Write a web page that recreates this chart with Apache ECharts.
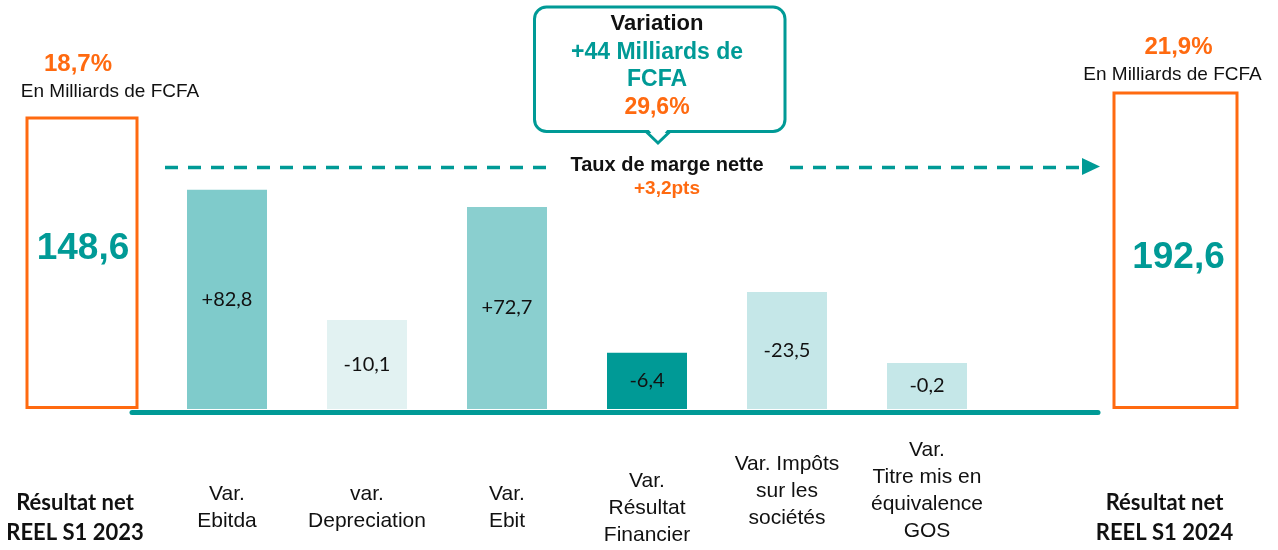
<!DOCTYPE html>
<html><head><meta charset="utf-8">
<script src="https://cdn.jsdelivr.net/npm/echarts@6/dist/echarts.min.js"></script>
<style>html,body{margin:0;padding:0;background:#fff}#c{width:1278px;height:550px}</style>
</head><body><div id="c"></div>
<script>
// ---- data ----
const startLabel = 'Résultat net\nREEL S1 2023';
const endLabel = 'Résultat net\nREEL S1 2024';
const startValue = 148.6;
const endValue = 192.6;
const startMarginRate = '18,7%';
const endMarginRate = '21,9%';
const unitText = 'En Milliards de FCFA';
const startHeight = 91.7;   // drawn height (chart units 0-100) as seen in the picture
const endHeight = 99.5;
const categories = ['Var.\nEbitda', 'var.\nDepreciation', 'Var.\nEbit', 'Var.\nRésultat\nFinancier', 'Var. Impôts\nsur les\nsociétés', 'Var.\nTitre mis en\néquivalence\nGOS'];
const variations = [82.8, -10.1, 72.7, -6.4, -23.5, -0.2];
const barHeights = [68.7, 27.9, 63.3, 17.6, 36.7, 14.4];
const calloutTitle = 'Variation';
const calloutAmount = ['+44 Milliards de', 'FCFA'];
const calloutPct = '29,6%';
const marginTitle = 'Taux de marge nette';
const marginChange = '+3,2pts';

// ---- styles ----
const TEAL = '#009A96';
const ORANGE = '#FF6A10';
const barColors = ['#7FCBCB', '#E2F2F2', '#8ACFCF', '#009A96', '#C5E7E8', '#C5E7E8'];
const SANS = '"Liberation Sans", Arial, sans-serif';
const CAL = 'Lato, "Open Sans", sans-serif';

const fmt = v => v.toFixed(1).replace('.', ',');
const fmtSigned = v => (v > 0 ? '+' : '') + fmt(v);

const chart = echarts.init(document.getElementById('c'), null, {renderer: 'canvas'});

const gridTop = 90, gridBottom = 141;
const hiddenY = i => ({type: 'value', gridIndex: i, min: 0, max: 100, show: false});

const endLabelStyle = {
  margin: 109, verticalAlign: 'middle', lineHeight: 30, fontSize: 22,
  fontWeight: 'bold', fontFamily: CAL, color: '#111'
};
const raisedLabels = [4, 5];

const option = {
  animation: false,
  backgroundColor: '#fff',
  grid: [
    {left: 24, width: 116, top: gridTop, bottom: gridBottom, outerBoundsMode: 'none', containLabel: false},
    {left: 157, width: 840, top: gridTop, bottom: gridBottom, outerBoundsMode: 'none', containLabel: false},
    {left: 1111, width: 129, top: gridTop, bottom: gridBottom, outerBoundsMode: 'none', containLabel: false},
    {left: 132, width: 966, top: 400, bottom: 137.5, outerBoundsMode: 'none', containLabel: false}
  ],
  xAxis: [
    {type: 'category', gridIndex: 0, data: [startLabel], axisLine: {show: false}, axisTick: {show: false},
     axisLabel: Object.assign({}, endLabelStyle, {padding: [0, 14, 0, 0]})},
    {type: 'category', gridIndex: 1, data: categories,
     axisLine: {show: false}, axisTick: {show: false},
     axisLabel: {interval: 0, margin: 99, verticalAlign: 'middle', lineHeight: 27, fontSize: 21,
                 fontFamily: SANS, color: '#111',
                 formatter: (v, i) => raisedLabels.includes(i) ? v + '\n{s| }' : v,
                 rich: {s: {lineHeight: 34, fontSize: 2}}}},
    {type: 'category', gridIndex: 2, data: [endLabel], axisLine: {show: false}, axisTick: {show: false},
     axisLabel: Object.assign({}, endLabelStyle, {padding: [0, 22, 0, 0]})},
    {type: 'value', gridIndex: 3, min: 0, max: 1, axisLine: {show: true, lineStyle: {color: TEAL, width: 5}},
     axisTick: {show: false}, axisLabel: {show: false}, splitLine: {show: false}}
  ],
  yAxis: [hiddenY(0), hiddenY(1), hiddenY(2), hiddenY(3)],
  series: [
    {type: 'bar', xAxisIndex: 0, yAxisIndex: 0, data: [startHeight], barWidth: 113, barGap: '-100%',
     itemStyle: {color: '#fff', borderColor: ORANGE, borderWidth: 3},
     label: {show: true, position: 'inside', formatter: () => fmt(startValue), color: TEAL,
             fontSize: 37, fontWeight: 'bold', fontFamily: SANS, offset: [1, -14]}},
    {type: 'bar', xAxisIndex: 0, yAxisIndex: 0, data: [startHeight], barWidth: 113, barGap: '-100%', silent: true,
     itemStyle: {color: 'rgba(0,0,0,0)'},
     label: {show: true, position: 'top', distance: 13, offset: [28, 0],
             formatter: () => '{p|' + startMarginRate + '}\n{u|' + unitText + '}',
             rich: {p: {fontSize: 24, fontWeight: 'bold', color: ORANGE, fontFamily: SANS, lineHeight: 30, padding: [0, 64, 0, 0]},
                    u: {fontSize: 19, color: '#111', fontFamily: SANS, lineHeight: 24}}}},
    {type: 'bar', xAxisIndex: 1, yAxisIndex: 1, barWidth: 80,
     data: barHeights.map((h, i) => ({value: h, itemStyle: {color: barColors[i]}})),
     label: {show: true, position: 'inside', formatter: p => fmtSigned(variations[p.dataIndex]),
             color: '#111', fontSize: 20, fontFamily: CAL}},
    {type: 'bar', xAxisIndex: 2, yAxisIndex: 2, data: [endHeight], barWidth: 126, barGap: '-100%',
     itemStyle: {color: '#fff', borderColor: ORANGE, borderWidth: 3},
     label: {show: true, position: 'inside', formatter: () => fmt(endValue), color: TEAL,
             fontSize: 37, fontWeight: 'bold', fontFamily: SANS, offset: [3, 7]}},
    {type: 'bar', xAxisIndex: 2, yAxisIndex: 2, data: [endHeight], barWidth: 126, barGap: '-100%', silent: true,
     itemStyle: {color: 'rgba(0,0,0,0)'},
     label: {show: true, position: 'top', distance: 5, offset: [-3, 0],
             formatter: () => '{p|' + endMarginRate + '}\n{u|' + unitText + '}',
             rich: {p: {fontSize: 24, fontWeight: 'bold', color: ORANGE, fontFamily: SANS, lineHeight: 30, padding: [0, 0, 0, 12]},
                    u: {fontSize: 19, color: '#111', fontFamily: SANS, lineHeight: 24}}}}
  ],
  graphic: [
    {type: 'line', shape: {x1: 165, y1: 167.5, x2: 546, y2: 167.5}, style: {stroke: TEAL, lineWidth: 3.5, lineDash: [13, 10]}},
    {type: 'line', shape: {x1: 790, y1: 167.5, x2: 1084, y2: 167.5}, style: {stroke: TEAL, lineWidth: 3.5, lineDash: [13, 10]}},
    {type: 'polygon', shape: {points: [[1082, 158], [1100, 166.5], [1082, 175]]}, style: {fill: TEAL}},
    {type: 'rect', shape: {x: 534.5, y: 7, width: 250.5, height: 124.5, r: 12}, style: {fill: '#fff', stroke: TEAL, lineWidth: 3}},
    {type: 'polygon', shape: {points: [[648, 129], [668, 129], [658, 141]]}, style: {fill: '#fff'}},
    {type: 'polyline', shape: {points: [[646, 131.5], [658, 143], [670, 131.5]]}, style: {stroke: TEAL, lineWidth: 3, fill: null}},
    {type: 'text', x: 657, y: 24, style: {text: calloutTitle, fill: '#111', font: 'bold 22px ' + SANS, textAlign: 'center', textVerticalAlign: 'middle'}},
    {type: 'text', x: 657, y: 53, style: {text: calloutAmount[0], fill: TEAL, font: 'bold 23px ' + SANS, textAlign: 'center', textVerticalAlign: 'middle'}},
    {type: 'text', x: 657, y: 80, style: {text: calloutAmount[1], fill: TEAL, font: 'bold 23px ' + SANS, textAlign: 'center', textVerticalAlign: 'middle'}},
    {type: 'text', x: 657, y: 108, style: {text: calloutPct, fill: ORANGE, font: 'bold 23px ' + SANS, textAlign: 'center', textVerticalAlign: 'middle'}},
    {type: 'text', x: 667, y: 165, style: {text: marginTitle, fill: '#111', font: 'bold 20px ' + SANS, textAlign: 'center', textVerticalAlign: 'middle'}},
    {type: 'text', x: 667, y: 189, style: {text: marginChange, fill: ORANGE, font: 'bold 19px ' + SANS, textAlign: 'center', textVerticalAlign: 'middle'}}
  ]
};
chart.setOption(option);
</script>
</body></html>
